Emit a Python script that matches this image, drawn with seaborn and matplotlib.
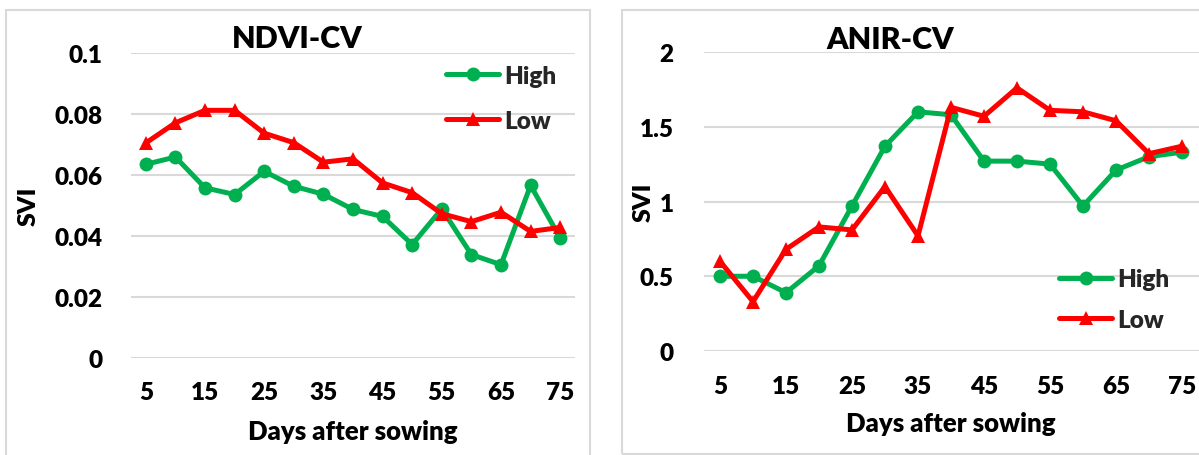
import matplotlib
matplotlib.use("Agg")
import matplotlib.pyplot as plt
from matplotlib.lines import Line2D
from matplotlib.patches import Rectangle
import pandas as pd
import seaborn as sns

# Days after sowing
days = [5, 10, 15, 20, 25, 30, 35, 40, 45, 50, 55, 60, 65, 70, 75]
tick_days = [5, 15, 25, 35, 45, 55, 65, 75]

# NDVI coefficient of variation
ndvi_high = [0.0635, 0.0659, 0.0558, 0.0536, 0.0612, 0.0563, 0.0537, 0.0487,
             0.0464, 0.0372, 0.0489, 0.0339, 0.0306, 0.0566, 0.0393]
ndvi_low = [0.0705, 0.0771, 0.0812, 0.0812, 0.0737, 0.0706, 0.0642, 0.0653,
            0.0574, 0.0542, 0.0473, 0.0447, 0.0478, 0.0415, 0.0428]

# ANIR coefficient of variation
anir_high = [0.50, 0.50, 0.39, 0.57, 0.97, 1.37, 1.60, 1.58,
             1.27, 1.27, 1.25, 0.97, 1.21, 1.30, 1.33]
anir_low = [0.60, 0.33, 0.68, 0.83, 0.81, 1.10, 0.77, 1.63,
            1.57, 1.76, 1.61, 1.60, 1.54, 1.32, 1.37]

levels = ["High", "Low"]
colors = {"High": "#00B050", "Low": "#FF0000"}
markers = {"High": "o", "Low": "^"}

sns.set_theme(style="white")
plt.rcParams["font.family"] = ["Lato", "DejaVu Sans"]
plt.rcParams["font.weight"] = "heavy"
plt.rcParams["legend.fontsize"] = 17.5

W, H = 1199, 456
fig = plt.figure(figsize=(W / 100, H / 100), dpi=100)
WEIGHT = "heavy"


def px_rect(x0, y0, x1, y1):
    """Axes rectangle from pixel edges (top-left origin)."""
    return [x0 / W, (H - y1) / H, (x1 - x0) / W, (y1 - y0) / H]


# panel frames
for (x0, y0, x1, y1) in [(5.5, 11, 590, 470), (622, 11, 1215, 455)]:
    fig.patches.append(Rectangle((x0 / W, (H - y1) / H), (x1 - x0) / W, (y1 - y0) / H,
                                 transform=fig.transFigure, fill=False,
                                 edgecolor="#d9d9d9", linewidth=1.5, zorder=0))


def long_frame(high, low):
    return pd.DataFrame({
        "day": days * 2,
        "value": high + low,
        "level": ["High"] * len(days) + ["Low"] * len(days),
    })


def draw_panel(rect, df, ymax, ystep, yfmt, title, title_xy, ylab_x, leg_xy,
               leg_spacing, xlab_y, tickpad_y, tickpad_x):
    ax = fig.add_axes(rect)
    sns.lineplot(data=df, x="day", y="value", hue="level", style="level",
                 hue_order=levels, style_order=levels, palette=colors,
                 markers=markers, dashes=False, linewidth=3.6, markersize=10,
                 markeredgewidth=0, legend=False, ax=ax, zorder=3)
    ax.set_xlim(2.5, 77.5)
    ax.set_ylim(0, ymax)
    yt = [i * ystep for i in range(int(round(ymax / ystep)) + 1)]
    ax.set_xticks(tick_days)
    ax.set_xticklabels([str(d) for d in tick_days], fontweight=WEIGHT, fontsize=17.5)
    ax.set_yticks(yt)
    ax.set_yticklabels([yfmt(v) for v in yt], fontweight=WEIGHT, fontsize=17.5)
    ax.tick_params(axis="both", length=0, colors="black")
    ax.tick_params(axis="y", pad=tickpad_y)
    ax.tick_params(axis="x", pad=tickpad_x)
    ax.grid(axis="y", color="#d9d9d9", linewidth=1.5, zorder=0)
    ax.grid(axis="x", visible=False)
    for s in ax.spines.values():
        s.set_visible(False)
    ax.set_facecolor("none")

    ax.set_xlabel("Days after sowing", fontsize=18.5, fontweight=WEIGHT, color="black")
    ax.xaxis.set_label_coords(0.5, xlab_y)
    ax.xaxis.label.set_va("center")
    ax.set_ylabel("SVI", fontsize=18, fontweight=WEIGHT, color="black")
    ax.yaxis.set_label_coords(ylab_x, 0.5)
    ax.yaxis.label.set_va("center")

    ax.text(title_xy[0], title_xy[1], title, transform=ax.transAxes,
            ha="center", va="center", fontsize=22, fontweight=WEIGHT, color="black")

    handles = [Line2D([], [], color=colors[k], marker=markers[k], linewidth=3.6,
                      markersize=10, markeredgewidth=0) for k in levels]
    leg = ax.legend(handles, levels, loc="center left", bbox_to_anchor=leg_xy,
                    frameon=False, handlelength=2.2, handletextpad=0.2,
                    borderpad=0, borderaxespad=0, labelspacing=leg_spacing)
    for t in leg.get_texts():
        t.set_fontweight(WEIGHT)
        t.set_fontsize(17.5)
    return ax


draw_panel(px_rect(131, 54, 575, 359), long_frame(ndvi_high, ndvi_low),
           0.1, 0.02, lambda v: "0" if v == 0 else f"{v:.2f}".rstrip("0"),
           "NDVI-CV", (0.374, 1.049), -0.23, (0.709, 0.852), 0.95,
           -0.24, 20.5, 16.5)

draw_panel(px_rect(703.5, 53, 1198.5, 352), long_frame(anir_high, anir_low),
           2.0, 0.5, lambda v: f"{v:g}",
           "ANIR-CV", (0.377, 1.043), -0.12, (0.718, 0.172), 0.75,
           -0.24, 21.5, 17)

fig.savefig("out.png", dpi=100)
